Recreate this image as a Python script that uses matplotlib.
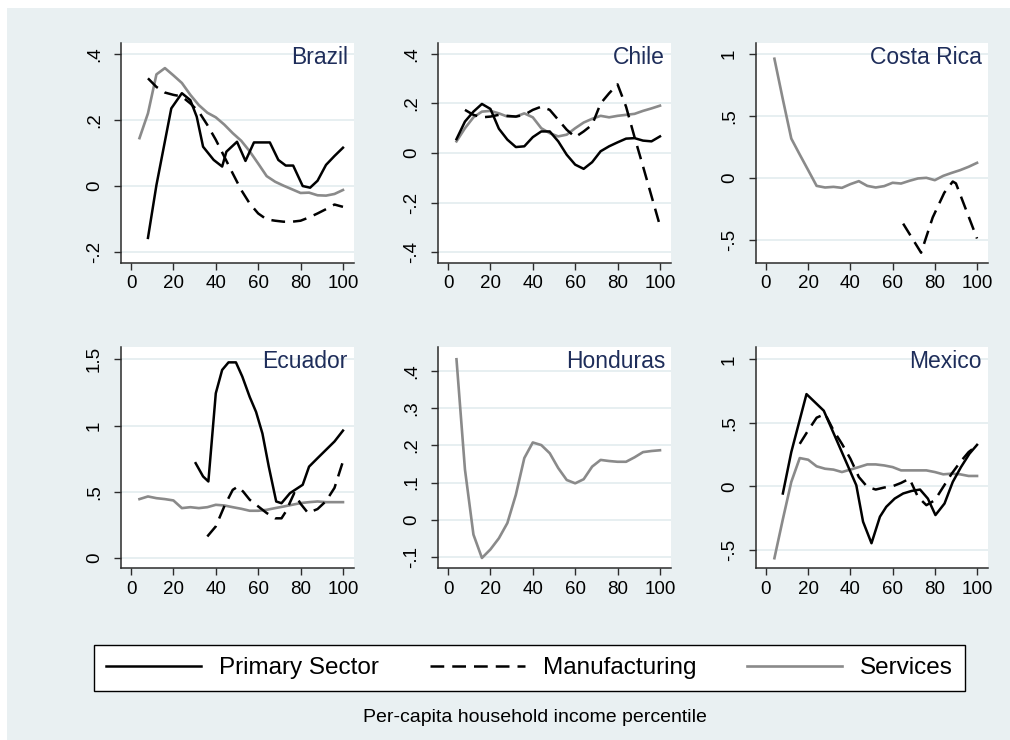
import matplotlib
matplotlib.use("Agg")
import matplotlib.pyplot as plt
from matplotlib.lines import Line2D
from matplotlib.patches import Rectangle
from matplotlib.ticker import FuncFormatter

plt.rcParams['font.family'] = ['Liberation Sans', 'DejaVu Sans']

# percentile grid used by the services / manufacturing series
pct = [4, 8, 12, 16, 20, 24, 28, 32, 36, 40, 44, 48, 52,
       56, 60, 64, 68, 72, 76, 80, 84, 88, 92, 96, 100]

# Brazil
bra_pri_x = [8, 12, 19, 24, 28, 31, 34, 39, 43, 45, 50, 54, 58, 65.5,
             69.5, 73, 76.5, 81, 84.5, 88, 92, 96, 100]
bra_pri_y = [-0.157, 0.003, 0.235, 0.281, 0.26, 0.21, 0.119, 0.079, 0.059, 0.104,
             0.134, 0.076, 0.132, 0.132, 0.079, 0.062, 0.062, 0.0, -0.005, 0.016,
             0.064, 0.091, 0.116]
bra_man_x = pct[1:]
bra_man_y = [0.326, 0.30, 0.283, 0.276, 0.271, 0.25, 0.225, 0.185, 0.14, 0.089,
             0.038, -0.012, -0.053, -0.083, -0.101, -0.105, -0.108, -0.108, -0.105,
             -0.095, -0.083, -0.07, -0.056, -0.063]
bra_ser_y = [0.145, 0.22, 0.338, 0.357, 0.335, 0.312, 0.276, 0.245, 0.222, 0.208,
             0.186, 0.16, 0.137, 0.105, 0.068, 0.03, 0.013, 0.001, -0.01, -0.021,
             -0.02, -0.028, -0.029, -0.024, -0.012]

# Chile
chl_pri_x = pct
chl_pri_y = [0.056, 0.127, 0.167, 0.198, 0.178, 0.098, 0.054, 0.024, 0.027, 0.064,
             0.087, 0.087, 0.047, -0.007, -0.047, -0.064, -0.037, 0.007, 0.027, 0.043,
             0.058, 0.06, 0.05, 0.047, 0.067]
chl_man_x = pct[1:]
chl_man_y = [0.174, 0.154, 0.144, 0.147, 0.154, 0.15, 0.147, 0.154, 0.174, 0.187,
             0.174, 0.134, 0.094, 0.064, 0.087, 0.114, 0.2, 0.241, 0.277, 0.187,
             0.064, -0.054, -0.174, -0.294]
chl_ser_y = [0.047, 0.1, 0.144, 0.167, 0.17, 0.16, 0.147, 0.147, 0.16, 0.144,
             0.1, 0.08, 0.067, 0.074, 0.1, 0.123, 0.138, 0.15, 0.144, 0.15,
             0.154, 0.158, 0.17, 0.18, 0.191]

# Costa Rica
cri_man_x = [65, 73.5, 79, 84.5, 88.5, 90, 100]
cri_man_y = [-0.37, -0.605, -0.32, -0.12, -0.03, -0.045, -0.49]
cri_ser_y = [0.962, 0.634, 0.317, 0.188, 0.062, -0.065, -0.078, -0.073, -0.081, -0.051,
             -0.027, -0.065, -0.078, -0.067, -0.04, -0.046, -0.024, -0.005, 0.0, -0.019,
             0.016, 0.04, 0.062, 0.089, 0.121]

# Ecuador
ecu_pri_x = [30.5, 34, 36.5, 40, 43, 46, 49.5, 52.5, 56, 59, 62, 65, 68.5, 71,
             75, 81, 84, 88, 92, 96, 100]
ecu_pri_y = [0.716, 0.616, 0.578, 1.244, 1.42, 1.477, 1.477, 1.37, 1.216, 1.103,
             0.94, 0.69, 0.427, 0.414, 0.49, 0.553, 0.69, 0.754, 0.817, 0.88, 0.962]
ecu_man_x = [36, 40, 44, 48, 50.5, 53, 56, 60, 64, 68, 71, 73, 77, 80, 83.5,
             88, 92, 96, 100]
ecu_man_y = [0.163, 0.239, 0.39, 0.515, 0.54, 0.5, 0.44, 0.39, 0.34, 0.3,
             0.3, 0.35, 0.49, 0.41, 0.34, 0.37, 0.43, 0.53, 0.73]
ecu_ser_y = [0.445, 0.465, 0.452, 0.445, 0.435, 0.377, 0.384, 0.377, 0.384, 0.402,
             0.397, 0.384, 0.372, 0.357, 0.357, 0.364, 0.377, 0.389, 0.402, 0.415,
             0.422, 0.427, 0.422, 0.422, 0.422]

# Honduras
hnd_ser_y = [0.432, 0.135, -0.04, -0.103, -0.08, -0.05, -0.009, 0.067, 0.166, 0.208,
             0.201, 0.179, 0.139, 0.107, 0.098, 0.109, 0.143, 0.161, 0.158, 0.156,
             0.156, 0.168, 0.182, 0.185, 0.187]

# Mexico
mex_pri_x = [8, 12, 19.2, 27.4, 42.8, 46, 50, 54, 57, 61, 65, 69, 73, 76.7,
             80.3, 84.6, 88.5, 92.4, 96.4, 100]
mex_pri_y = [-0.057, 0.269, 0.726, 0.595, 0.008, -0.279, -0.449, -0.24, -0.162, -0.097,
             -0.057, -0.037, -0.026, -0.097, -0.227, -0.136, 0.034, 0.151, 0.256, 0.326]
mex_man_x = pct[3:]
mex_man_y = [0.334, 0.44, 0.54, 0.57, 0.44, 0.334, 0.217, 0.073, -0.005, -0.026,
             -0.01, 0.0, 0.026, 0.06, -0.084, -0.149, -0.11, -0.005, 0.099, 0.19,
             0.269, 0.321]
mex_ser_y = [-0.567, -0.26, 0.034, 0.222, 0.209, 0.157, 0.138, 0.131, 0.112, 0.131,
             0.151, 0.172, 0.172, 0.164, 0.151, 0.125, 0.125, 0.125, 0.125, 0.112,
             0.094, 0.099, 0.094, 0.081, 0.081]

countries = ["Brazil", "Chile", "Costa Rica", "Ecuador", "Honduras", "Mexico"]
sector_labels = ["Primary Sector", "Manufacturing", "Services"]

W, H = 1010, 740
bg = "#e9f0f2"
grid_col = "#e3ecef"
title_col = "#1e2d5a"
gray = "#8a8a8a"
dash = (0, (5.5, 3.2))


def box(left, top, right, bottom):
    return [left / W, 1 - bottom / H, (right - left) / W, (bottom - top) / H]


def stata_fmt(v, pos):
    s = f"{v:g}"
    if s.startswith("0."):
        s = s[1:]
    elif s.startswith("-0."):
        s = "-" + s[2:]
    elif s == "-0":
        s = "0"
    return s


panels = [
    # name, axes box, ylim, yticks, primary, manufacturing, services
    ("Brazil", box(121, 43, 354, 263), (-0.233, 0.433), [-0.2, 0, 0.2, 0.4],
     (bra_pri_x, bra_pri_y), (bra_man_x, bra_man_y), bra_ser_y),
    ("Chile", box(438, 43, 671, 263), (-0.444, 0.444), [-0.4, -0.2, 0, 0.2, 0.4],
     (chl_pri_x, chl_pri_y), (chl_man_x, chl_man_y), chl_ser_y),
    ("Costa Rica", box(756, 43, 988, 263), (-0.688, 1.089), [-0.5, 0, 0.5, 1],
     None, (cri_man_x, cri_man_y), cri_ser_y),
    ("Ecuador", box(121, 347, 354, 568), (-0.075, 1.593), [0, 0.5, 1, 1.5],
     (ecu_pri_x, ecu_pri_y), (ecu_man_x, ecu_man_y), ecu_ser_y),
    ("Honduras", box(438, 347, 671, 568), (-0.130, 0.465), [-0.1, 0, 0.1, 0.2, 0.3, 0.4],
     None, None, hnd_ser_y),
    ("Mexico", box(756, 347, 988, 568), (-0.644, 1.097), [-0.5, 0, 0.5, 1],
     (mex_pri_x, mex_pri_y), (mex_man_x, mex_man_y), mex_ser_y),
]

fig = plt.figure(figsize=(W / 100, H / 100), dpi=100, facecolor="white")
fig.add_artist(Rectangle((7 / W, 0), 1 - 7 / W, 1 - 8 / H, transform=fig.transFigure,
                         facecolor=bg, edgecolor="none", zorder=-5))

for name, rect, ylim, yticks, pri, man, ser in panels:
    ax = fig.add_axes(rect)
    ax.set_facecolor("white")
    for y in yticks:
        ax.axhline(y, color=grid_col, lw=1.2, zorder=0)
    if ser is not None:
        ax.plot(pct, ser, color=gray, lw=1.9, zorder=2)
    if man is not None:
        ax.plot(man[0], man[1], color="black", lw=1.8, linestyle=dash, zorder=3)
    if pri is not None:
        ax.plot(pri[0], pri[1], color="black", lw=1.8, zorder=4)
    ax.set_xlim(-4.72, 105.2)
    ax.set_ylim(*ylim)
    ax.set_xticks([0, 20, 40, 60, 80, 100])
    ax.set_yticks(yticks)
    ax.yaxis.set_major_formatter(FuncFormatter(stata_fmt))
    for side in ["top", "right"]:
        ax.spines[side].set_visible(False)
    for side in ["left", "bottom"]:
        ax.spines[side].set_color("#2b2b2b")
        ax.spines[side].set_linewidth(1.1)
    ax.tick_params(axis="both", direction="out", length=5, width=1.0,
                   color="#2b2b2b", labelsize=13.5, labelcolor="black")
    ax.tick_params(axis="x", pad=4)
    ax.tick_params(axis="y", pad=8, labelrotation=90)
    for lab in ax.get_yticklabels():
        lab.set_verticalalignment("center")
    ax.text(1 - 6 / (rect[2] * W), 1 - 14 / (rect[3] * H), name, transform=ax.transAxes,
            ha="right", va="center", fontsize=16.5, color=title_col, zorder=5)

handles = [
    Line2D([], [], color="black", lw=1.8),
    Line2D([], [], color="black", lw=1.8, linestyle=dash),
    Line2D([], [], color=gray, lw=1.9),
]
leg = fig.legend(handles, sector_labels, loc="center",
                 bbox_to_anchor=(529.5 / W, 1 - 668 / H), ncol=3, frameon=True,
                 fancybox=False, edgecolor="black", fontsize=17.5, handlelength=3.9,
                 handletextpad=0.75, columnspacing=2.1, borderpad=0.5, framealpha=1)
leg.get_frame().set_linewidth(1.0)

fig.text(535 / W, 1 - 718 / H, "Per-capita household income percentile",
         ha="center", va="center", fontsize=14)

fig.savefig("out.png", dpi=100, facecolor=fig.get_facecolor())
